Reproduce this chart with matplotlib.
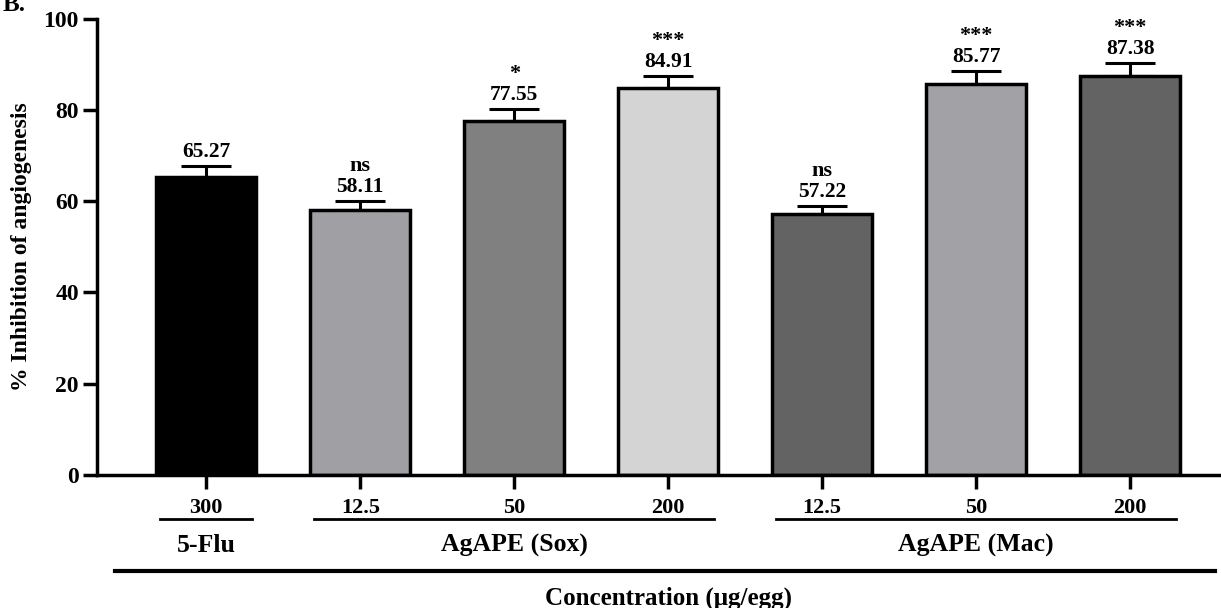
import numpy as np
import matplotlib
matplotlib.use("Agg")
import matplotlib.pyplot as plt
import matplotlib.transforms as mtransforms

plt.rcParams["font.family"] = ["Liberation Serif", "DejaVu Serif"]

# Data
doses = ["300", "12.5", "50", "200", "12.5", "50", "200"]
values = [65.27, 58.11, 77.55, 84.91, 57.22, 85.77, 87.38]
errors = [2.5, 2.0, 2.7, 2.6, 1.8, 2.8, 3.0]
signif = ["", "ns", "*", "***", "ns", "***", "***"]
colors = ["#000000", "#a0a0a4", "#808080", "#d4d4d4", "#636363", "#a2a1a5", "#636363"]
groups = ["5-Flu", "AgAPE (Sox)", "AgAPE (Mac)"]
group_bars = [(0, 0), (1, 3), (4, 6)]

fig = plt.figure(figsize=(12.21, 6.08), dpi=100)
ax = fig.add_axes([0.0794, 0.219, 0.9206, 0.750])

x = np.arange(len(values))
ax.bar(x, values, width=0.65, color=colors, edgecolor="black", linewidth=2.5, zorder=2)
ax.errorbar(x, values, yerr=[np.zeros(len(errors)), errors], fmt="none",
            ecolor="black", elinewidth=2.2, capsize=18, capthick=2.2, zorder=1)

for xi, v, e, s in zip(x, values, errors, signif):
    ax.text(xi, v + e + 0.8, f"{v:.2f}", ha="center", va="bottom",
            fontsize=15.5, fontweight="bold")
    if s:
        ax.text(xi, v + e + 5.5, s, ha="center", va="bottom",
                fontsize=16, fontweight="bold")

ax.set_xlim(-0.71, 6.59)
ax.set_ylim(0, 100)
ax.set_yticks([0, 20, 40, 60, 80, 100])
ax.set_xticks(x)
ax.set_xticklabels(doses)
for lab in ax.get_yticklabels():
    lab.set_fontweight("bold")
    lab.set_fontsize(17)
for lab in ax.get_xticklabels():
    lab.set_fontweight("bold")
    lab.set_fontsize(16)
ax.tick_params(axis="both", length=10, width=2.5, direction="out")
ax.tick_params(axis="x", pad=7)
ax.tick_params(axis="y", pad=3)
ax.spines["top"].set_visible(False)
ax.spines["right"].set_visible(False)
ax.spines["left"].set_linewidth(2.5)
ax.spines["bottom"].set_linewidth(2.5)

ax.set_ylabel("% Inhibition of angiogenesis", fontsize=17, fontweight="bold", labelpad=8)

# group lines and labels below the axis
trans = mtransforms.blended_transform_factory(ax.transData, ax.transAxes)
for name, (a, b) in zip(groups, group_bars):
    ax.plot([a - 0.3, b + 0.3], [-0.096, -0.096], color="black", lw=2,
            transform=trans, clip_on=False)
    ax.text((a + b) / 2, -0.155, name, transform=trans, ha="center", va="center",
            fontsize=18.5, fontweight="bold")

ax.plot([-0.59, 6.55], [-0.21, -0.21], color="black", lw=3,
        transform=trans, clip_on=False)
ax.text(3.0, -0.27, "Concentration (\u03bcg/egg)", transform=trans, ha="center",
        va="center", fontsize=18, fontweight="bold")

fig.text(0.002, 1.012, "B.", fontsize=18, fontweight="bold", va="top")

fig.savefig("out.png", dpi=100)
